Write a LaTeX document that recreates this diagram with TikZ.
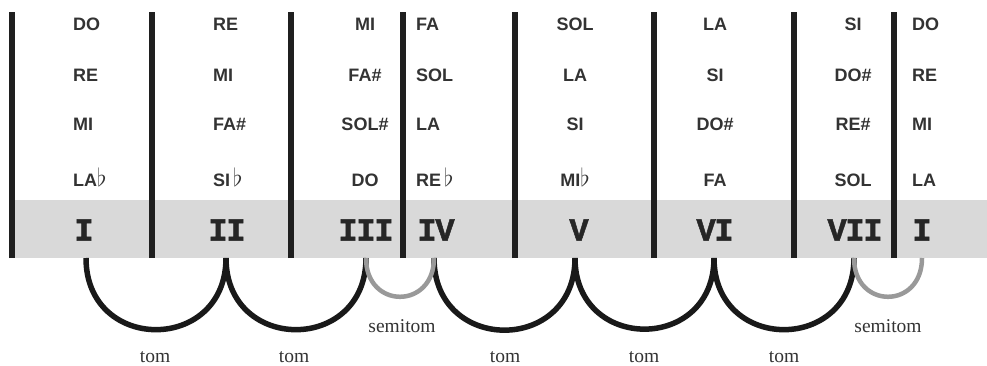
\documentclass[tikz,border=0pt]{standalone}
\usepackage{fontspec}
\setmainfont{Liberation Serif}
\setsansfont{Liberation Sans}
\newfontfamily\degfont{Liberation Mono}[BoldFeatures={FakeBold=1.5}, LetterSpace=-4]
\newcommand{\flt}{\smash{\fontsize{24}{24}\selectfont$\flat$}}

\begin{document}
\begin{tikzpicture}[x=1pt, y=1pt,
  bar/.style = {line width=6.5pt, draw=black!88},
  note/.style = {font=\sffamily\bfseries\fontsize{18}{20}\selectfont,
        text=black!80, inner sep=0pt},
  degree/.style = {font=\degfont\bfseries\fontsize{32}{32}\selectfont,
        text=black!85, inner sep=0pt},
  tone/.style = {line width=5.5pt, draw=black!90},
  semitone/.style = {line width=4.5pt, draw=black!40},
  lbl/.style = {font=\fontsize{19.5}{21}\selectfont, text=black!80}]
 \useasboundingbox (0,0) rectangle (987,365);
 \fill[black!15] (12,107) rectangle (987,165);
 \foreach \x in {12,152,291,403,515,654,794,894}
   \draw[bar] (\x,107) -- (\x,353);

 % notes of each degree
 \foreach \c/\x/\a/\na/\nb/\nc/\nd in {
     1/73/west/DO/RE/MI/{LA\flt},
     2/213/west/RE/MI/FA\#/{SI\,\flt},
     3/365/center/MI/FA\#/SOL\#/DO,
     4/416/west/FA/SOL/LA/{RE\,\flt},
     5/575/center/SOL/LA/SI/{MI\flt},
     6/715/center/LA/SI/DO\#/FA,
     7/853/center/SI/DO\#/RE\#/SOL,
     8/912/west/DO/RE/MI/LA} {
   \node[note, anchor=\a] (n\c a) at (\x,341) {\na};
   \node[note, anchor=\a] (n\c b) at (\x,290) {\nb};
   \node[note, anchor=\a] (n\c c) at (\x,241) {\nc};
   \node[note, anchor=\a] (n\c d) at (\x,185) {\nd};
 }

 \node[degree] (g1) at (84,135)  {I};
 \node[degree] (g2) at (227,135) {II};
 \node[degree] (g3) at (366,135) {III};
 \node[degree] (g4) at (436,135) {IV};
 \node[degree] (g5) at (579,135) {V};
 \node[degree] (g6) at (715,135) {VI};
 \node[degree] (g7) at (855,135) {VII};
 \node[degree] (g8) at (922,135) {I};

 \coordinate (d1) at (86,107);
 \coordinate (d2) at (226,107);
 \coordinate (d3) at (366,107);
 \coordinate (d4) at (434,107);
 \coordinate (d5) at (575,107);
 \coordinate (d6) at (714,107);
 \coordinate (d7) at (854,107);
 \coordinate (d8) at (922,107);

 \begin{scope}[out=-90, in=-90]
  \path (d1) edge[tone, looseness=1.75] (d2)
        (d2) edge[tone, looseness=1.75] (d3)
        (d4) edge[tone, looseness=1.75] (d5)
        (d5) edge[tone, looseness=1.75] (d6)
        (d6) edge[tone, looseness=1.75] (d7)
        (d3) edge[semitone, looseness=1.95] (d4)
        (d7) edge[semitone, looseness=1.95] (d8);
 \end{scope}

 \node[lbl] (t1) at (155,8) {tom};
 \node[lbl] (t2) at (294,8) {tom};
 \node[lbl] (t3) at (505,8) {tom};
 \node[lbl] (t4) at (644,8) {tom};
 \node[lbl] (t5) at (784,8) {tom};
 \node[lbl] (s1) at (402,39) {semitom};
 \node[lbl] (s2) at (888,39) {semitom};
\end{tikzpicture}
\end{document}
